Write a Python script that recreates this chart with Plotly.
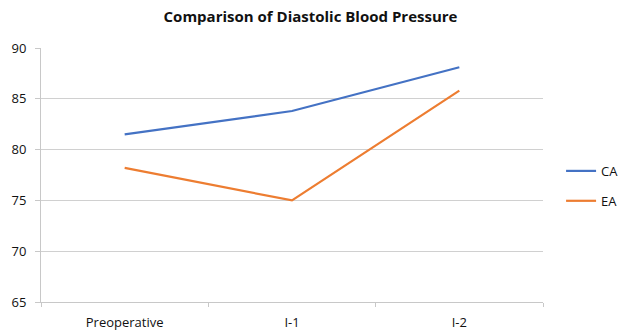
import plotly.graph_objects as go

# Diastolic blood pressure by time point
stages = ["Preoperative", "I-1", "I-2"]
ca_values = [81.5, 83.8, 88.1]
ea_values = [78.2, 75.0, 85.8]
y_ticks = [65, 70, 75, 80, 85, 90]

font_family = "'Open Sans', Lato, sans-serif"

fig = go.Figure()
fig.add_trace(go.Scatter(x=stages, y=ca_values, mode="lines", name="CA",
                         legendgroup="ca",
                         line=dict(color="#4472C4", width=2.2)))
fig.add_trace(go.Scatter(x=stages, y=ea_values, mode="lines", name="EA",
                         legendgroup="ea",
                         line=dict(color="#ED7D31", width=2.2)))

fig.update_layout(
    width=621, height=331,
    margin=dict(l=41, r=78, t=48, b=29, autoexpand=False),
    paper_bgcolor="white", plot_bgcolor="white",
    font=dict(family=font_family, size=12, color="#333333"),
    title=dict(text="<b>Comparison of Diastolic Blood Pressure</b>",
               x=0.5, xanchor="center", y=0.95, yanchor="middle",
               font=dict(size=15, color="#111111")),
    legend=dict(x=1.036, y=0.575, xanchor="left", yanchor="top",
                traceorder="grouped", tracegroupgap=10, itemwidth=30,
                font=dict(size=13, color="#111111"),
                bgcolor="rgba(0,0,0,0)"),
    showlegend=True,
)
fig.update_xaxes(type="category", range=[-0.5, 2.5], tickson="boundaries",
                 ticks="outside", ticklen=4, tickcolor="#c8c8c8",
                 showline=True, linecolor="#c8c8c8", linewidth=1,
                 showgrid=False, ticklabelstandoff=8,
                 tickfont=dict(size=13, color="#111111"))
fig.update_yaxes(range=[65, 90], tickvals=y_ticks, ticks="outside",
                 ticklen=5, tickcolor="#c8c8c8", showline=True,
                 linecolor="#c8c8c8", linewidth=1, showgrid=True,
                 gridcolor="#d0d0d0", gridwidth=1, zeroline=False,
                 ticklabelstandoff=6,
                 tickfont=dict(size=13, color="#111111"))

fig.write_html("out.html")
